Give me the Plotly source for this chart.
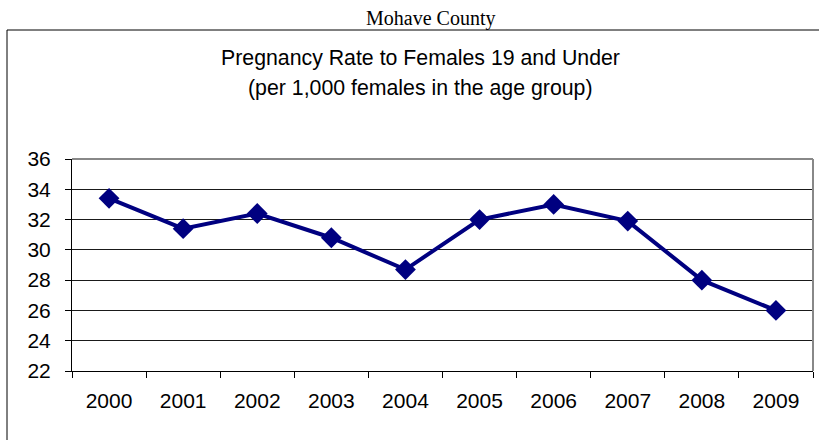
import plotly.graph_objs as go

years = ["2000", "2001", "2002", "2003", "2004", "2005", "2006", "2007", "2008", "2009"]
rates = [33.4, 31.4, 32.4, 30.8, 28.7, 32.0, 33.0, 31.9, 28.0, 26.0]
y_ticks = [22, 24, 26, 28, 30, 32, 34, 36]

W, H = 819, 440
L, R, T, B = 72, 813, 159, 371


def px(x):
    return (x - L) / (R - L)


def py(y):
    return (B - y) / (B - T)


fig = go.Figure()
fig.add_trace(go.Scatter(
    x=years, y=rates, mode="lines+markers",
    line=dict(color="#000080", width=4),
    marker=dict(symbol="diamond", size=16, color="#000080"),
    showlegend=False,
))

fig.update_layout(
    width=W, height=H,
    margin=dict(l=L, r=W - R, t=T, b=H - B),
    paper_bgcolor="white", plot_bgcolor="white",
    font=dict(family="Liberation Sans, Arial", size=21, color="black"),
    xaxis=dict(
        type="category", range=[-0.5, len(years) - 0.5],
        tickson="boundaries", ticks="outside", ticklen=6,
        tickcolor="black", showline=True, linecolor="black", linewidth=1,
        showgrid=False, ticklabelstandoff=11, fixedrange=True, automargin=False,
    ),
    yaxis=dict(
        range=[22, 36], tickvals=y_ticks, ticks="outside", ticklen=6,
        tickcolor="black", showline=True, linecolor="black", linewidth=1,
        showgrid=True, gridcolor="#1a1a1a", gridwidth=1, zeroline=False,
        ticklabelstandoff=10, fixedrange=True, automargin=False,
    ),
    shapes=[
        dict(type="line", xref="paper", yref="paper", x0=0, x1=1, y0=1, y1=1,
             line=dict(color="#888888", width=2)),
        dict(type="line", xref="paper", yref="paper", x0=1, x1=1, y0=0, y1=1,
             line=dict(color="#888888", width=2)),
        dict(type="rect", xref="paper", yref="paper",
             x0=px(7), x1=px(840), y0=py(450), y1=py(30),
             line=dict(color="black", width=1)),
    ],
    annotations=[
        dict(text="Mohave County", xref="paper", yref="paper", x=px(430), y=py(18),
             xanchor="center", yanchor="middle", showarrow=False,
             font=dict(family="Liberation Serif, Times New Roman", size=20)),
        dict(text="Pregnancy Rate to Females 19 and Under", xref="paper", yref="paper",
             x=px(420), y=py(58), xanchor="center", yanchor="middle",
             showarrow=False, font=dict(size=21.3)),
        dict(text="(per 1,000 females in the age group)", xref="paper", yref="paper",
             x=px(420), y=py(88), xanchor="center", yanchor="middle",
             showarrow=False, font=dict(size=21.3)),
    ],
)

fig.write_html("out.html", config={"displayModeBar": False},
               post_script="document.body.style.margin='0';")
